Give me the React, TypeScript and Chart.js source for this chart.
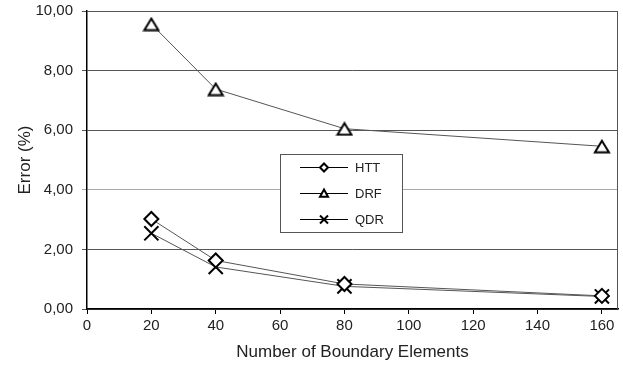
import React, { useEffect, useRef } from "react";
import { Chart, registerables } from "chart.js";

Chart.register(...registerables);

const elements = [20, 40, 80, 160];
const httValues = [3.02, 1.63, 0.84, 0.44];
const drfValues = [9.56, 7.38, 6.05, 5.46];
const qdrValues = [2.54, 1.41, 0.76, 0.42];
const seriesNames = ["HTT", "DRF", "QDR"];
const xTicks = [0, 20, 40, 60, 80, 100, 120, 140, 160];
const yTicks = [0, 2, 4, 6, 8, 10];

const FONT = "'Liberation Sans', Arial, sans-serif";

function makeTriangleMarker() {
  const c = document.createElement("canvas");
  c.width = 18;
  c.height = 15;
  const ctx = c.getContext("2d")!;
  ctx.fillStyle = "#ffffff";
  ctx.strokeStyle = "#000000";
  ctx.lineWidth = 2;
  ctx.lineJoin = "miter";
  ctx.beginPath();
  ctx.moveTo(9, 2);
  ctx.lineTo(16, 13.5);
  ctx.lineTo(2, 13.5);
  ctx.closePath();
  ctx.fill();
  ctx.stroke();
  return c;
}

function drawPointShape(ctx: any, style: string, x: number, y: number, r: number) {
  ctx.beginPath();
  if (style === "rectRot") {
    ctx.moveTo(x, y - r);
    ctx.lineTo(x + r, y);
    ctx.lineTo(x, y + r);
    ctx.lineTo(x - r, y);
    ctx.closePath();
    ctx.fill();
    ctx.stroke();
  } else if (style === "triangle") {
    ctx.moveTo(x, y - r);
    ctx.lineTo(x + r, y + r * 0.8);
    ctx.lineTo(x - r, y + r * 0.8);
    ctx.closePath();
    ctx.fill();
    ctx.stroke();
  } else {
    ctx.moveTo(x - r, y - r);
    ctx.lineTo(x + r, y + r);
    ctx.moveTo(x + r, y - r);
    ctx.lineTo(x - r, y + r);
    ctx.stroke();
  }
}

const legendPlugin = {
  id: "boxLegend",
  afterDraw(chart: any) {
    const ctx = chart.ctx;
    const x0 = 280.5, y0 = 154.5, w = 122, h = 78;
    ctx.save();
    ctx.fillStyle = "#ffffff";
    ctx.fillRect(x0, y0, w, h);
    ctx.strokeStyle = "#555555";
    ctx.lineWidth = 1;
    ctx.strokeRect(x0, y0, w, h);
    const rows = [167, 193, 219];
    const styles = ["rectRot", "triangle", "crossRot"];
    chart.data.datasets.forEach((ds: any, i: number) => {
      const y = rows[i];
      ctx.strokeStyle = "#000000";
      ctx.lineWidth = 1;
      ctx.beginPath();
      ctx.moveTo(300, y + 0.5);
      ctx.lineTo(348, y + 0.5);
      ctx.stroke();
      ctx.lineWidth = 2;
      ctx.fillStyle = "#ffffff";
      drawPointShape(ctx, styles[i], 324, y + 0.5, 4);
      ctx.fillStyle = "#222222";
      ctx.font = `13px ${FONT}`;
      ctx.textBaseline = "middle";
      ctx.textAlign = "left";
      ctx.fillText(ds.label, 355, y + 1);
    });
    ctx.restore();
  },
};

const borderPlugin = {
  id: "plotBorder",
  afterDraw(chart: any) {
    const { ctx, chartArea } = chart;
    ctx.save();
    ctx.strokeStyle = "#555555";
    ctx.lineWidth = 1;
    ctx.beginPath();
    ctx.moveTo(chartArea.left, chartArea.top + 0.5);
    ctx.lineTo(chartArea.right - 0.5, chartArea.top + 0.5);
    ctx.lineTo(chartArea.right - 0.5, chartArea.bottom);
    ctx.stroke();
    ctx.restore();
  },
};

export default function App() {
  const ref = useRef<HTMLCanvasElement>(null);
  useEffect(() => {
    const mk = (arr: number[]) => elements.map((x, i) => ({ x, y: arr[i] }));
    const common = {
      borderColor: "#555555",
      borderWidth: 1,
      pointBorderColor: "#000000",
      pointBackgroundColor: "#ffffff",
      pointBorderWidth: 2,
      tension: 0,
      clip: false as any,
    };
    const tri = makeTriangleMarker();
    const chart = new Chart(ref.current!, {
      type: "line",
      data: {
        datasets: [
          { ...common, label: seriesNames[0], data: mk(httValues), pointStyle: "rectRot", pointRadius: 7 },
          { ...common, label: seriesNames[1], data: mk(drfValues), pointStyle: tri as any, pointRadius: 8 },
          { ...common, label: seriesNames[2], data: mk(qdrValues), pointStyle: "crossRot", pointRadius: 10 },
        ],
      },
      options: {
        animation: false,
        responsive: false,
        layout: { autoPadding: false, padding: { top: 11, right: 5, left: 0, bottom: 0 } },
        plugins: { legend: { display: false }, tooltip: { enabled: false } },
        scales: {
          x: {
            type: "linear",
            min: 0,
            max: 165,
            afterBuildTicks: (s: any) => {
              s.ticks = xTicks.map((v) => ({ value: v }));
            },
            afterFit: (s: any) => {
              s.height = 58;
              s.paddingLeft = 0;
              s.paddingRight = 0;
            },
            grid: {
              drawOnChartArea: false,
              drawTicks: true,
              tickLength: 5,
              color: "#000000",
            },
            border: { color: "#000000", width: 1.5 },
            ticks: { color: "#222222", font: { family: FONT, size: 15 }, padding: 3, maxRotation: 0 },
            title: {
              display: true,
              text: "Number of Boundary Elements",
              color: "#222222",
              font: { family: FONT, size: 17 },
              padding: { top: 4, bottom: 4 },
            },
          },
          y: {
            type: "linear",
            min: 0,
            max: 10,
            afterBuildTicks: (s: any) => {
              s.ticks = yTicks.map((v) => ({ value: v }));
            },
            afterFit: (s: any) => {
              s.width = 87;
              s.paddingTop = 0;
              s.paddingBottom = 0;
            },
            grid: {
              tickLength: 5,
              color: (c: any) => (c.tick && c.tick.value === 4 ? "#aaaaaa" : "#555555"),
            },
            border: { color: "#000000", width: 1.5 },
            ticks: {
              color: "#222222",
              font: { family: FONT, size: 15 },
              padding: 9,
              callback: (v: any) => Number(v).toFixed(2).replace(".", ","),
            },
            title: {
              display: true,
              text: "Error (%)",
              color: "#222222",
              font: { family: FONT, size: 17 },
              padding: { top: 15, bottom: 0 },
            },
          },
        },
      },
      plugins: [borderPlugin, legendPlugin],
    });
    return () => chart.destroy();
  }, []);
  return (
    <div style={{ position: "fixed", left: 0, top: 0, width: 623, height: 367, background: "#fff" }}>
      <canvas ref={ref} width={623} height={367} style={{ width: 623, height: 367 }} />
    </div>
  );
}
